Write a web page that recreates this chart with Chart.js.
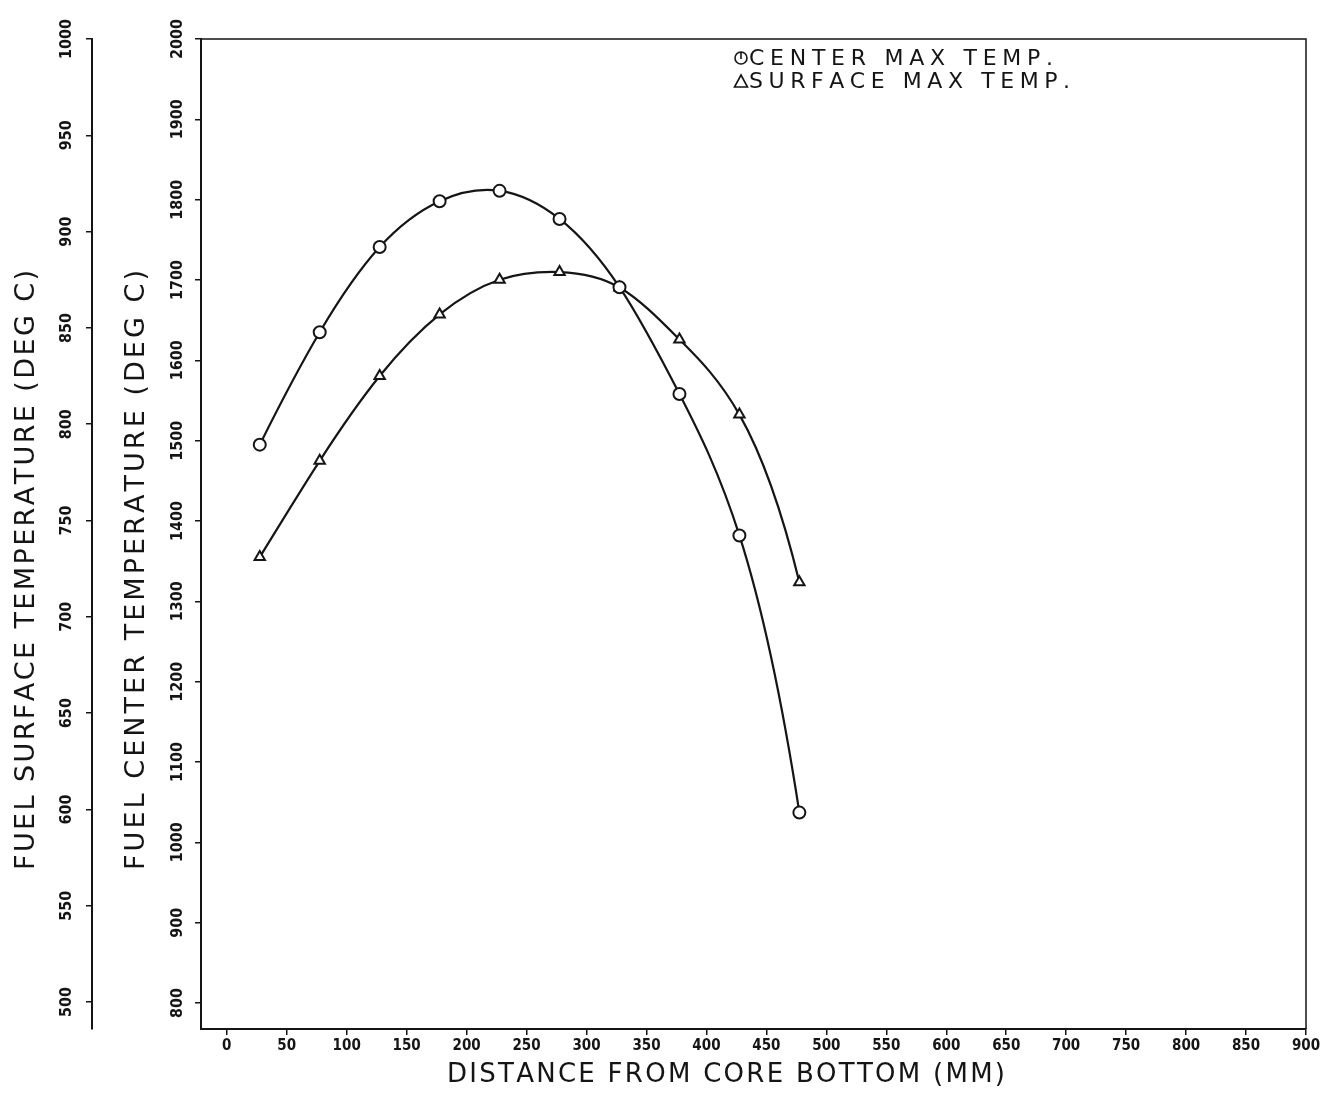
<!DOCTYPE html>
<html>
<head>
<meta charset="utf-8">
<script src="https://cdn.jsdelivr.net/npm/chart.js@4.4.1/dist/chart.umd.min.js"></script>
<style>
  body { margin: 0; background: #fff; }
  canvas { display: block; }
</style>
</head>
<body>
<canvas id="myChart" width="1330" height="1094"></canvas>
<script>
// values
const distance = [27.5, 77.5, 127.5, 177.5, 227.5, 277.5, 327.5, 377.5, 427.5, 477.5];
const centerMaxTemp = [1495, 1635, 1741, 1798, 1811, 1776, 1691, 1558, 1382, 1037];
const surfaceMaxTemp = [731, 781, 825, 857, 875, 879, 871, 844, 805, 718];

const xTicks = [0, 50, 100, 150, 200, 250, 300, 350, 400, 450, 500, 550, 600, 650, 700, 750, 800, 850, 900];
const centerTicks = [800, 900, 1000, 1100, 1200, 1300, 1400, 1500, 1600, 1700, 1800, 1900, 2000];
const surfaceTicks = [500, 550, 600, 650, 700, 750, 800, 850, 900, 950, 1000];

const INK = "#151515";
const tickFont = { family: "'DejaVu Sans Condensed', 'DejaVu Sans'", size: 15, weight: "bold" };

// draw text with the letters spread out over a given width (plotter look)
function spacedText(ctx, text, left, y, width) {
  const chars = text.split("");
  const widths = chars.map(c => ctx.measureText(c).width);
  const total = widths.reduce((a, b) => a + b, 0);
  const gap = (width - total) / (chars.length - 1);
  let x = left;
  chars.forEach((c, i) => {
    ctx.fillText(c, x, y);
    x += widths[i] + gap;
  });
}

// slopes of a not-a-knot cubic spline through the pixel points
function splineSlopes(xs, ys) {
  const n = xs.length;
  const h = [];
  for (let i = 0; i < n - 1; i++) h.push(xs[i + 1] - xs[i]);
  const A = xs.map(() => new Array(n).fill(0));
  const b = new Array(n).fill(0);
  A[0][0] = h[1]; A[0][1] = -(h[0] + h[1]); A[0][2] = h[0];
  A[n - 1][n - 3] = h[n - 2]; A[n - 1][n - 2] = -(h[n - 3] + h[n - 2]); A[n - 1][n - 1] = h[n - 3];
  for (let i = 1; i < n - 1; i++) {
    A[i][i - 1] = h[i - 1];
    A[i][i] = 2 * (h[i - 1] + h[i]);
    A[i][i + 1] = h[i];
    b[i] = 6 * ((ys[i + 1] - ys[i]) / h[i] - (ys[i] - ys[i - 1]) / h[i - 1]);
  }
  // gaussian elimination
  for (let c = 0; c < n; c++) {
    let p = c;
    for (let r = c + 1; r < n; r++) if (Math.abs(A[r][c]) > Math.abs(A[p][c])) p = r;
    [A[c], A[p]] = [A[p], A[c]];
    [b[c], b[p]] = [b[p], b[c]];
    for (let r = c + 1; r < n; r++) {
      const f = A[r][c] / A[c][c];
      for (let k = c; k < n; k++) A[r][k] -= f * A[c][k];
      b[r] -= f * b[c];
    }
  }
  const M = new Array(n).fill(0);
  for (let r = n - 1; r >= 0; r--) {
    let s = b[r];
    for (let k = r + 1; k < n; k++) s -= A[r][k] * M[k];
    M[r] = s / A[r][r];
  }
  const m = [];
  for (let i = 0; i < n - 1; i++) m.push((ys[i + 1] - ys[i]) / h[i] - h[i] * (2 * M[i] + M[i + 1]) / 6);
  m.push((ys[n - 1] - ys[n - 2]) / h[n - 2] + h[n - 2] * (M[n - 2] + 2 * M[n - 1]) / 6);
  return m;
}

const smoothCurves = {
  id: "smoothCurves",
  beforeDatasetDraw(chart, args) {
    const meta = args.meta;
    const pts = meta.data;
    const n = pts.length;
    if (n < 4) return;
    const xs = pts.map(p => p.x);
    const ys = pts.map(p => p.y);
    const m = splineSlopes(xs, ys);
    pts.forEach((p, i) => {
      const hPrev = i > 0 ? xs[i] - xs[i - 1] : 0;
      const hNext = i < n - 1 ? xs[i + 1] - xs[i] : 0;
      p.cp1x = xs[i] - hPrev / 3;
      p.cp1y = ys[i] - m[i] * hPrev / 3;
      p.cp2x = xs[i] + hNext / 3;
      p.cp2y = ys[i] + m[i] * hNext / 3;
    });
    meta.dataset._pointsUpdated = true;
    meta.dataset._path = undefined;
  }
};

const decorations = {
  id: "decorations",
  afterDraw(chart) {
    const ctx = chart.ctx;
    const area = chart.chartArea;
    ctx.save();

    // top + right frame
    ctx.strokeStyle = INK;
    ctx.lineWidth = 1.5;
    ctx.beginPath();
    ctx.moveTo(area.left, area.top);
    ctx.lineTo(area.right, area.top);
    ctx.lineTo(area.right, area.bottom);
    ctx.stroke();

    // rotated y tick labels
    ctx.fillStyle = INK;
    ctx.font = "bold 16px 'DejaVu Sans Condensed', 'DejaVu Sans'";
    ctx.textAlign = "center";
    ctx.textBaseline = "middle";
    [["ySurface", 67], ["yCenter", 178]].forEach(([id, x]) => {
      const s = chart.scales[id];
      s.ticks.forEach(t => {
        const y = s.getPixelForValue(t.value);
        ctx.save();
        ctx.translate(x, y);
        ctx.rotate(-Math.PI / 2);
        ctx.fillText(String(t.value), 0, 0);
        ctx.restore();
      });
    });

    // axis titles
    ctx.textAlign = "left";
    ctx.font = "26px 'DejaVu Sans'";
    spacedText(ctx, "DISTANCE FROM CORE BOTTOM (MM)", 447, 1075, 558);

    ctx.font = "27px 'DejaVu Sans'";
    [["FUEL SURFACE TEMPERATURE (DEG C)", 27], ["FUEL CENTER TEMPERATURE (DEG C)", 137]].forEach(([txt, x]) => {
      ctx.save();
      ctx.translate(x, 570);
      ctx.rotate(-Math.PI / 2);
      spacedText(ctx, txt, -300, 0, 600);
      ctx.restore();
    });

    // legend
    ctx.font = "22px 'DejaVu Sans'";
    const sets = chart.data.datasets;
    spacedText(ctx, sets[0].label, 749, 59, 304);
    spacedText(ctx, sets[1].label, 749, 82, 321);
    ctx.lineWidth = 1.6;
    ctx.beginPath();
    ctx.arc(741, 58, 6, 0, Math.PI * 2);
    ctx.moveTo(741, 52);
    ctx.lineTo(741, 59);
    ctx.stroke();
    ctx.beginPath();
    ctx.moveTo(741, 75);
    ctx.lineTo(747.5, 87);
    ctx.lineTo(734.5, 87);
    ctx.closePath();
    ctx.stroke();

    ctx.restore();
  }
};

function axisStyle(extra) {
  return Object.assign({
    type: "linear",
    border: { display: true, color: INK, width: 2 },
    grid: { display: true, drawOnChartArea: false, drawTicks: true, tickLength: 6, color: INK, lineWidth: 1.5 },
  }, extra);
}

const ctx = document.getElementById("myChart").getContext("2d");
const chart = new Chart(ctx, {
  type: "line",
  data: {
    datasets: [
      {
        label: "CENTER MAX TEMP.",
        data: distance.map((d, i) => ({ x: d, y: centerMaxTemp[i] })),
        yAxisID: "yCenter",
        borderColor: INK,
        borderWidth: 2.2,
        tension: 0.4,
        pointStyle: "circle",
        pointRadius: 6,
        pointBorderWidth: 2,
        pointBorderColor: INK,
        pointBackgroundColor: "#fff",
      },
      {
        label: "SURFACE MAX TEMP.",
        data: distance.map((d, i) => ({ x: d, y: surfaceMaxTemp[i] })),
        yAxisID: "ySurface",
        borderColor: INK,
        borderWidth: 2.2,
        tension: 0.4,
        pointStyle: "triangle",
        pointRadius: 6,
        pointBorderWidth: 2,
        pointBorderColor: INK,
        pointBackgroundColor: "#fff",
      },
    ],
  },
  options: {
    responsive: false,
    animation: false,
    layout: { padding: { left: 0, top: 39, right: 24, bottom: 0 } },
    plugins: { legend: { display: false }, tooltip: { enabled: false } },
    scales: {
      x: axisStyle({
        position: "bottom",
        min: -21.5,
        max: 900,
        ticks: { color: INK, font: tickFont, padding: 2, maxRotation: 0, autoSkip: false },
        afterBuildTicks: s => { s.ticks = xTicks.map(v => ({ value: v })); },
        afterFit: s => { s.height = 65; },
      }),
      ySurface: axisStyle({
        position: "left",
        weight: 1,
        min: 486,
        max: 1000,
        ticks: { display: false },
        afterBuildTicks: s => { s.ticks = surfaceTicks.map(v => ({ value: v })); },
        afterFit: s => { s.width = 92; },
      }),
      yCenter: axisStyle({
        position: "left",
        weight: 0,
        min: 767.6,
        max: 2000,
        ticks: { display: false },
        afterBuildTicks: s => { s.ticks = centerTicks.map(v => ({ value: v })); },
        afterFit: s => { s.width = 109; },
      }),
    },
  },
  plugins: [smoothCurves, decorations],
});
</script>
</body>
</html>
